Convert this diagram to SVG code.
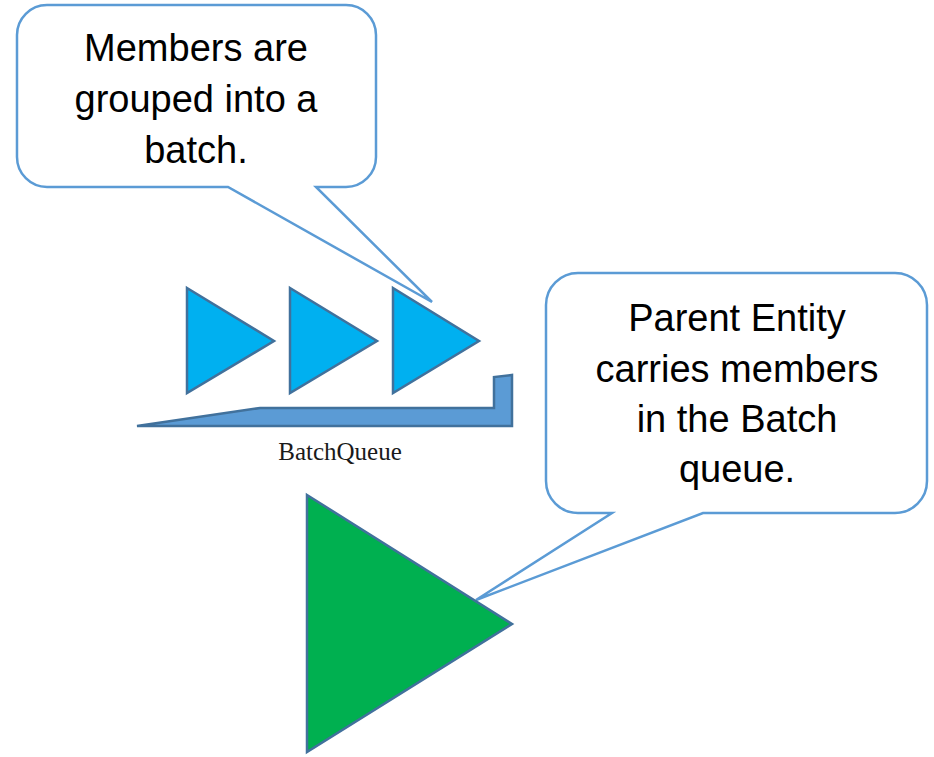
<svg xmlns="http://www.w3.org/2000/svg" width="934" height="757" viewBox="0 0 934 757">
  <style>
    .callout { fill: #ffffff; stroke: #5b9bd5; stroke-width: 2.5; stroke-linejoin: miter; }
    .member { fill: #00b0f0; stroke: #41719c; stroke-width: 2.5; stroke-linejoin: miter; }
    .queue { fill: #5b9bd5; stroke: #41719c; stroke-width: 2.5; stroke-linejoin: miter; }
    .parent { fill: #00b050; stroke: #41719c; stroke-width: 2.5; stroke-linejoin: miter; }
    .note { font-family: "Liberation Sans", Arial, sans-serif; font-size: 38px; fill: #000000; text-anchor: middle; }
    .label { font-family: "Liberation Serif", "Times New Roman", serif; font-size: 25px; fill: #1a1a1a; text-anchor: middle; }
  </style>

  <!-- speech bubble above the members -->
  <g id="note-members">
    <path class="callout" d="M 47 5 H 346 A 30 30 0 0 1 376 35 V 157 A 30 30 0 0 1 346 187 H 316 L 432 302 L 228 187 H 47 A 30 30 0 0 1 17 157 V 35 A 30 30 0 0 1 47 5 Z"/>
    <text class="note" x="196" y="61">Members are</text>
    <text class="note" x="196" y="112">grouped into a</text>
    <text class="note" x="196" y="163">batch.</text>
  </g>

  <!-- speech bubble beside the parent entity -->
  <g id="note-parent">
    <path class="callout" d="M 578 273 H 895 A 32 32 0 0 1 927 305 V 481 A 32 32 0 0 1 895 513 H 703 L 476 600 L 612 513 H 578 A 32 32 0 0 1 546 481 V 305 A 32 32 0 0 1 578 273 Z"/>
    <text class="note" x="737" y="331">Parent Entity</text>
    <text class="note" x="737" y="382">carries members</text>
    <text class="note" x="737" y="432">in the Batch</text>
    <text class="note" x="737" y="482">queue.</text>
  </g>

  <!-- batched member entities -->
  <g id="member-1">
    <polygon class="member" points="187,288 274,341 187,393"/>
  </g>
  <g id="member-2">
    <polygon class="member" points="290,288 377,341 290,393"/>
  </g>
  <g id="member-3">
    <polygon class="member" points="393,288 479,341 393,393"/>
  </g>

  <!-- the batch queue tray -->
  <g id="batch-queue">
    <polygon class="queue" points="137,426 260,408 494,408 494,377 512,375 512,426"/>
    <text class="label" x="340" y="460">BatchQueue</text>
  </g>

  <!-- parent entity -->
  <g id="parent-entity">
    <polygon class="parent" points="307,495 512,624 307,752"/>
  </g>

  <g id="connectors"></g>
</svg>
